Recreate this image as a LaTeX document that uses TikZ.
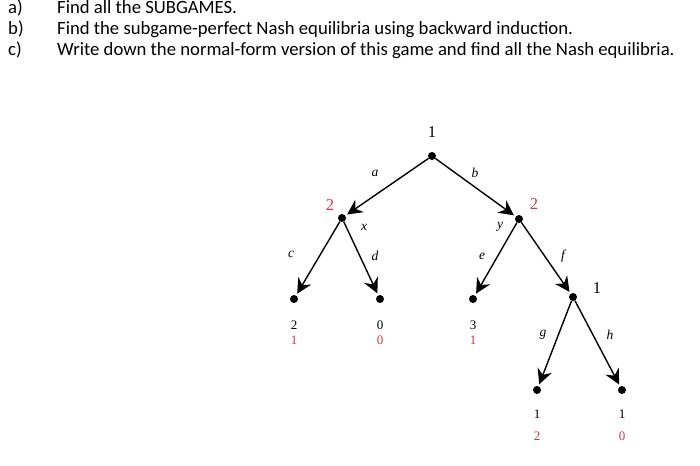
\documentclass[tikz,border=0pt]{standalone}
\usepackage{fontspec}
\setmainfont{Liberation Serif}
\newfontfamily\qfont{Carlito}
\usetikzlibrary{arrows.meta}

\definecolor{plred}{RGB}{215,55,65}

\begin{document}
\begin{tikzpicture}[x=1pt,y=-1pt,>={Stealth[length=15pt,width=15pt,inset=5pt]},
  dec/.style={circle,fill=black,inner sep=0pt,minimum size=8pt},
  move/.style={->,line width=1.4pt,shorten >=2pt},
  pl/.style={font=\fontsize{16.5}{16.5}\selectfont},
  act/.style={font=\fontsize{13.5}{13.5}\selectfont\itshape},
  pay/.style={font=\fontsize{13}{13}\selectfont,inner sep=0pt},
  qline/.style={anchor=base west,inner sep=0pt,font=\qfont\fontsize{18.7}{18.7}\selectfont}]
\useasboundingbox (0,0) rectangle (700,465);

% questions
\node[qline] (qa) at (8,14) {\makebox[49pt][l]{a)}Find all the SUBGAMES.};
\node[qline] (qb) at (8,35) {\makebox[49pt][l]{b)}Find the subgame-perfect Nash equilibria using backward induction.};
\node[qline] (qc) at (8,56) {\makebox[49pt][l]{c)}Write down the normal-form version of this game and find all the Nash equilibria.};

% decision nodes
\node[dec] (root) at (432,156) {};
\node[dec] (left) at (342,218) {};
\node[dec] (right) at (519,219) {};
\node[dec] (low) at (573,297) {};
% terminal nodes
\node[dec] (tc) at (294,299) {};
\node[dec] (td) at (380,299) {};
\node[dec] (te) at (473,299) {};
\node[dec] (tg) at (537,390) {};
\node[dec] (th) at (622,390) {};

% players
\node[pl] (p_root) at (432,132) {1};
\node[pl,text=plred] (p_left) at (330,205) {2};
\node[pl,text=plred] (p_right) at (534,204) {2};
\node[pl] (p_low) at (597,288) {1};

% moves
\draw[move] (root) -- (left);
\draw[move] (root) -- (right);
\draw[move] (left) -- (tc);
\draw[move] (left) -- (td);
\draw[move] (right) -- (te);
\draw[move] (right) -- (low);
\draw[move] (low) -- (tg);
\draw[move] (low) -- (th);

\node[act] (l_a) at (375,173) {a};
\node[act] (l_b) at (475,173) {b};
\node[act] (l_x) at (364,227) {x};
\node[act] (l_y) at (500,227) {y};
\node[act] (l_c) at (291,254) {c};
\node[act] (l_d) at (375,256) {d};
\node[act] (l_e) at (482,256) {e};
\node[act] (l_f) at (563,256) {f};
\node[act] (l_g) at (543,335) {g};
\node[act] (l_h) at (610,335) {h};

% payoffs
\node[pay] (u_c) at (294,325) {2};
\node[pay,text=plred] (v_c) at (294,340) {1};
\node[pay] (u_d) at (380,325) {0};
\node[pay,text=plred] (v_d) at (380,340) {0};
\node[pay] (u_e) at (473,325) {3};
\node[pay,text=plred] (v_e) at (473,340) {1};
\node[pay] (u_g) at (537,414) {1};
\node[pay,text=plred] (v_g) at (537,436) {2};
\node[pay] (u_h) at (622,414) {1};
\node[pay,text=plred] (v_h) at (622,436) {0};
\end{tikzpicture}
\end{document}
